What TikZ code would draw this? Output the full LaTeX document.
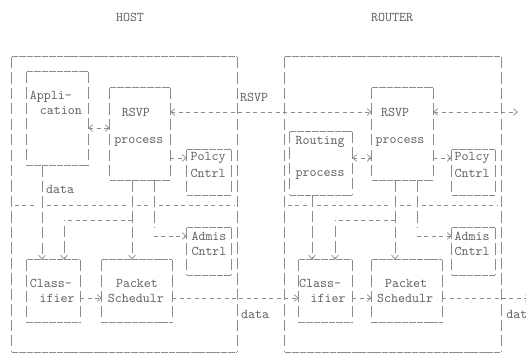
\documentclass[tikz,border=0pt]{standalone}
\usepackage{tikz}
\usetikzlibrary{arrows.meta, fit}

\begin{document}
\begin{tikzpicture}[x=0.75pt, y=-0.75pt, >={Straight Barb[length=3pt, width=5pt]},
  every node/.style={font=\ttfamily\fontsize{10}{12}\selectfont, text=black!62, inner sep=0pt},
  box/.style={inner sep=0pt},
  ubar/.style={draw=black!45, line width=0.55pt, dash pattern=on 5pt off 0.6pt},
  vbar/.style={draw=black!45, line width=0.55pt, dash pattern=on 8.5pt off 3.1pt},
  dline/.style={draw=black!45, line width=0.55pt, dash pattern=on 3pt off 2.6pt}]
\useasboundingbox (0,0) rectangle (526,354);
\clip (0,0) rectangle (526,354);
% titles
\node (hosttl) at (130,17) {HOST};
\node (rtrtl) at (392,17) {ROUTER};
% host boxes
\node[box, fit={(12,57) (237,352)}] (host) {};
\node[box, fit={(27,72) (88,165)}] (app) {};
\node[box, fit={(110,88) (170,180)}] (hrsvp) {};
\node[box, fit={(187,150) (231,195)}] (hpol) {};
\node[box, fit={(187,228) (231,275)}] (hadm) {};
\node[box, fit={(27,260) (80,322)}] (hcls) {};
\node[box, fit={(102,260) (172,322)}] (hsch) {};
% router boxes
\node[box, fit={(285,57) (501,352)}] (rtr) {};
\node[box, fit={(290,132) (352,195)}] (rrte) {};
\node[box, fit={(372,88) (433,180)}] (rrsvp) {};
\node[box, fit={(452,150) (495,195)}] (rpol) {};
\node[box, fit={(452,228) (495,275)}] (radm) {};
\node[box, fit={(299,260) (352,322)}] (rcls) {};
\node[box, fit={(372,260) (442,322)}] (rsch) {};
\foreach \b in {host,app,hrsvp,hpol,hadm,hcls,hsch,rtr,rrte,rrsvp,rpol,radm,rcls,rsch}{
  \draw[ubar] (\b.north west) -- (\b.north east) (\b.south west) -- (\b.south east);
  \draw[vbar] (\b.north west) -- (\b.south west) (\b.north east) -- (\b.south east);
}
% texts, host
\node (appa) at (51,97) {Appli-};
\node (appb) at (61,111) {cation};
\node (hrsvpa) at (136,112) {RSVP};
\node (hrsvpb) at (139,142) {process};
\node (hpola) at (208,158) {Polcy};
\node (hpolb) at (208,173) {Cntrl};
\node (hadma) at (209,236) {Admis};
\node (hadmb) at (209,251) {Cntrl};
\node (hclsa) at (51,283) {Class-};
\node (hclsb) at (57,298) {ifier};
\node (hscha) at (137,283) {Packet};
\node (hschb) at (136,298) {Schedulr};
\node (hdata) at (60,189) {data};
\node (msg) at (254,97) {RSVP};
\node (ldata) at (255,314) {data};
% texts, router
\node (rrtea) at (320,142) {Routing};
\node (rrteb) at (320,175) {process};
\node (rrsvpa) at (395,112) {RSVP};
\node (rrsvpb) at (400,142) {process};
\node (rpola) at (472,158) {Polcy};
\node (rpolb) at (472,173) {Cntrl};
\node (radma) at (472,236) {Admis};
\node (radmb) at (472,251) {Cntrl};
\node (rclsa) at (320,283) {Class-};
\node (rclsb) at (328,298) {ifier};
\node (rscha) at (406,283) {Packet};
\node (rschb) at (405,298) {Schedulr};
\node[anchor=west] (rdata) at (506,314) {data};
% split points and free ends
\coordinate (hsplit) at (132,220);
\coordinate (rsplit) at (395,220);
\coordinate (rsvpout) at (518,112);
\coordinate (dataout) at (530,298);
% separators
\draw[dline] (15,205) -- (37,205) (47,205) -- (127,205) (137,205) -- (149,205) (159,205) -- (234,205);
\draw[dline] (288,205) -- (307,205) (317,205) -- (390,205) (400,205) -- (412,205) (422,205) -- (498,205);
% control, host
\draw[dline, <->] (app.east |- 0,128) -- (hrsvp.west |- 0,128);
\draw[dline, <->] (hrsvp.east |- 0,112) -- (rrsvp.west |- 0,112);
\draw[dline, ->] (hrsvp.east |- 0,158) -- (hpol.west |- 0,158);
\draw[vbar, ->] (app.south -| 42,0) -- (hcls.north -| 42,0);
\draw[vbar, ->] (hrsvp.south -| 132,0) -- (hsch.north -| 132,0);
\draw[vbar] (hrsvp.south -| 154,0) -- (154,228);
\draw[dline, ->] (154,236) -- (hadm.west |- 0,236);
\draw[dline] (hsplit) -- (64,220);
\draw[vbar, ->] (64,226) -- (hcls.north -| 64,0);
% control, router
\draw[dline, <->] (rrsvp.east |- 0,112) -- (rsvpout);
\draw[dline, <->] (rrte.east |- 0,158) -- (rrsvp.west |- 0,158);
\draw[dline, ->] (rrsvp.east |- 0,158) -- (rpol.west |- 0,158);
\draw[vbar, ->] (rrte.south -| 312,0) -- (rcls.north -| 312,0);
\draw[vbar, ->] (rrsvp.south -| 395,0) -- (rsch.north -| 395,0);
\draw[vbar] (rrsvp.south -| 417,0) -- (417,228);
\draw[dline, ->] (417,236) -- (radm.west |- 0,236);
\draw[dline] (rsplit) -- (335,220);
\draw[vbar, ->] (335,226) -- (rcls.north -| 335,0);
% data path
\draw[dline, ->] (hcls.east |- 0,298) -- (hsch.west |- 0,298);
\draw[dline, ->] (hsch.east |- 0,298) -- (rcls.west |- 0,298);
\draw[dline, ->] (rcls.east |- 0,298) -- (rsch.west |- 0,298);
\draw[dline, ->] (rsch.east |- 0,298) -- (dataout);
\end{tikzpicture}
\end{document}
